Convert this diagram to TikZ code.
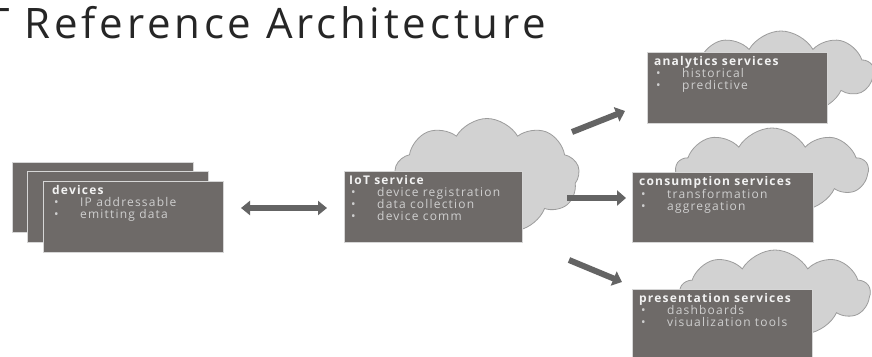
\documentclass[tikz,border=0pt]{standalone}
\usepackage{fontspec}
\setmainfont{Open Sans}
\newfontfamily\titlefont[LetterSpace=9]{Open Sans}
\newfontfamily\boxfont[LetterSpace=10]{Open Sans}
\usetikzlibrary{shapes.symbols,arrows.meta}

\definecolor{boxfill}{HTML}{6E6A68}
\definecolor{boxedge}{HTML}{D6D6D6}
\definecolor{cloudfill}{HTML}{D2D2D2}
\definecolor{cloudedge}{HTML}{9C9C9C}
\definecolor{arrowgray}{HTML}{646464}
\definecolor{headtext}{HTML}{F2F2F2}
\definecolor{itemtext}{HTML}{CFCFCF}
\definecolor{titletext}{HTML}{262626}

\tikzset{
  svcbox/.style={rectangle, fill=boxfill, draw=boxedge, line width=1pt,
    inner sep=0pt, anchor=north west},
  cloudbg/.style={cloud, cloud puffs=9, cloud puff arc=120, fill=cloudfill,
    draw=cloudedge, line width=0.8pt, inner sep=0pt},
  boxtext/.style={anchor=north west, inner sep=0pt, align=left,
    font=\boxfont\fontsize{12}{12}\selectfont},
  flow/.style={line width=6pt, draw=arrowgray,
    -{Triangle[length=9pt,width=15pt]}},
  bothflow/.style={line width=5.5pt, draw=arrowgray,
    {Triangle[length=9pt,width=14pt]}-{Triangle[length=9pt,width=14pt]}},
}

% heading line and bullet list inside a box
\newcommand{\boxhead}[1]{\textcolor{headtext}{\bfseries #1}}
\newcommand{\boxitem}[1]{\makebox[28pt][l]{\hspace{2pt}\textcolor{itemtext}{\textbullet}}\textcolor{itemtext}{#1}}

\begin{document}
\begin{tikzpicture}[x=1pt,y=-1pt]
\useasboundingbox (0,0) rectangle (872,356);
\clip (0,0) rectangle (872,356);
\fill[white] (0,0) rectangle (872,356);

% title
\node[anchor=base west, inner sep=0pt, text=titletext,
  font=\titlefont\fontsize{42}{48}\selectfont] (title) at (-58,38)
  {IoT Reference Architecture};

% clouds behind the service boxes
\node[cloudbg, minimum width=185pt, minimum height=115pt] (cloudIoT) at (487,176) {};
\node[cloudbg, minimum width=185pt, minimum height=82pt] (cloudA) at (781,72) {};
\node[cloudbg, minimum width=192pt, minimum height=84pt] (cloudC) at (772,170) {};
\node[cloudbg, minimum width=190pt, minimum height=86pt] (cloudP) at (775,293) {};

% stacked device cards
\node[svcbox, minimum width=181pt, minimum height=70pt] (dev1) at (12,162) {};
\node[svcbox, minimum width=181pt, minimum height=71pt] (dev2) at (27,171) {};
\node[svcbox, minimum width=180pt, minimum height=71pt] (dev3) at (43,181) {};
\node[boxtext] (devtxt) at ([shift={(9,4)}]dev3.north west)
  {\boxhead{devices}\\ \boxitem{IP addressable}\\ \boxitem{emitting data}};

% IoT service
\node[svcbox, minimum width=178pt, minimum height=71pt] (iot) at (344,171) {};
\node[boxtext] (iottxt) at ([shift={(5,4)}]iot.north west)
  {\boxhead{IoT service}\\ \boxitem{device registration}\\ \boxitem{data collection}\\ \boxitem{device comm}};

% downstream services
\node[svcbox, minimum width=180pt, minimum height=71pt] (analytics) at (647,52) {};
\node[boxtext] (antxt) at ([shift={(7,4)}]analytics.north west)
  {\boxhead{analytics services}\\ \boxitem{historical}\\ \boxitem{predictive}};

\node[svcbox, minimum width=181pt, minimum height=70pt] (consumption) at (632,172) {};
\node[boxtext] (contxt) at ([shift={(7,4)}]consumption.north west)
  {\boxhead{consumption services}\\ \boxitem{transformation}\\ \boxitem{aggregation}};

\node[svcbox, minimum width=180pt, minimum height=75pt] (presentation) at (632,289) {};
\node[boxtext] (pretxt) at ([shift={(7,4)}]presentation.north west)
  {\boxhead{presentation services}\\ \boxitem{dashboards}\\ \boxitem{visualization tools}};

% connectors
\coordinate (lnkA) at (241,208);  \coordinate (lnkB) at (327,208);
\draw[bothflow] (lnkA) -- (lnkB);

\coordinate (upS) at (572,132);   \coordinate (upE) at (625,111);
\coordinate (rtS) at (567,198);   \coordinate (rtE) at (626,198);
\coordinate (dnS) at (569,260);   \coordinate (dnE) at (622,282);
\draw[flow] (upS) -- (upE);
\draw[flow] (rtS) -- (rtE);
\draw[flow] (dnS) -- (dnE);
\end{tikzpicture}
\end{document}
